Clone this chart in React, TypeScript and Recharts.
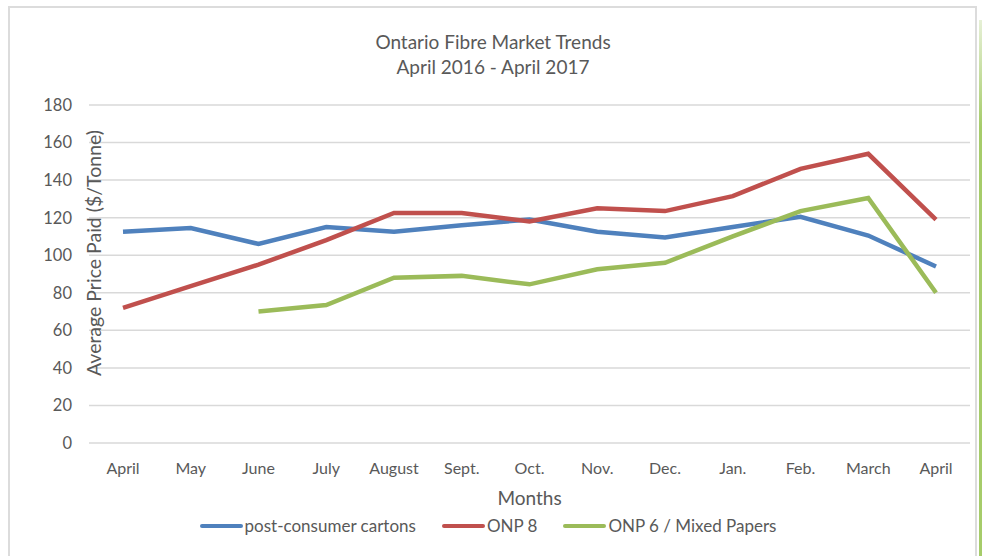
import { LineChart, Line, XAxis, YAxis, CartesianGrid, Legend } from "recharts";

const months = ["April", "May", "June", "July", "August", "Sept.", "Oct.", "Nov.", "Dec.", "Jan.", "Feb.", "March", "April"];
const cartons = [112.5, 114.5, 106, 115, 112.5, 116, 119, 112.5, 109.5, 115, 120.5, 110.5, 94];
const onp8 = [72, 83.5, 95, 108, 122.5, 122.5, 118, 125, 123.5, 131.5, 146, 154, 119];
const onp6 = [null, null, 70, 73.5, 88, 89, 84.5, 92.5, 96, 110, 123.5, 130.5, 80];
const yTicks = [0, 20, 40, 60, 80, 100, 120, 140, 160, 180];

const series = [
  { key: "cartons", name: "post-consumer cartons", color: "#4F81BD" },
  { key: "onp8", name: "ONP 8", color: "#C0504D" },
  { key: "onp6", name: "ONP 6 / Mixed Papers", color: "#9BBB59" },
];

const data = months.map((m, i) => ({
  month: m,
  cartons: cartons[i],
  onp8: onp8[i],
  onp6: onp6[i],
}));

const FONT = "Lato, 'Open Sans', sans-serif";
const TEXT = "#595959";

function LegendRow() {
  return (
    <div style={{ display: "flex", justifyContent: "center", gap: 26, fontFamily: FONT, fontSize: 17, color: TEXT, paddingLeft: 6 }}>
      {series.map((s) => (
        <div key={s.key} style={{ display: "flex", alignItems: "center" }}>
          <span style={{ display: "inline-block", width: 43, height: 4, background: s.color, borderRadius: 2, marginRight: 2 }} />
          {s.name}
        </div>
      ))}
    </div>
  );
}

export default function App() {
  return (
    <div style={{ position: "relative", width: 982, height: 556, background: "#fff", overflow: "hidden" }}>
      <style>{`body{margin:0}`}</style>
      <div style={{ position: "absolute", left: 8, top: 6, width: 969, height: 570, border: "2px solid #dcdcdc", boxSizing: "border-box" }} />
      <div style={{ position: "absolute", left: 979, top: 20, width: 3, height: 536, background: "linear-gradient(#e6f0d6, #a6cc6a 20%)" }} />
      <div style={{ position: "absolute", left: 0, width: 986, top: 29, textAlign: "center", fontFamily: FONT, fontSize: 19, lineHeight: "25px", color: TEXT }}>
        Ontario Fibre Market Trends
        <br />
        April 2016 - April 2017
      </div>
      <div style={{ position: "absolute", left: 0, top: 0 }}>
        <LineChart width={982} height={556} data={data} margin={{ top: 105, right: 12, bottom: 11, left: 0 }}>
          <CartesianGrid vertical={false} stroke="#d9d9d9" strokeWidth={1.5} />
          <XAxis
            dataKey="month"
            interval={0}
            axisLine={false}
            tickLine={false}
            tickSize={0}
            tickMargin={20}
            height={72}
            padding={{ left: 34, right: 34 }}
            tick={{ fill: TEXT, fontSize: 16, fontFamily: FONT }}
            label={{ value: "Months", position: "insideBottom", offset: 10, fill: TEXT, fontSize: 19, fontFamily: FONT }}
          />
          <YAxis
            domain={[0, 180]}
            ticks={yTicks}
            interval={0}
            width={89}
            axisLine={false}
            tickLine={false}
            tickSize={0}
            tickMargin={17}
            tick={{ fill: TEXT, fontSize: 16.5, fontFamily: FONT }}
            label={{
              content: ({ viewBox }: any) => {
                const cx = viewBox.x + viewBox.width + 4;
                const cy = viewBox.y + viewBox.height / 2 - 21;
                return (
                  <text x={cx} y={cy} transform={`rotate(-90, ${cx}, ${cy})`} textAnchor="middle" dominantBaseline="central" fill={TEXT} fontSize={19.5} fontFamily={FONT}>
                    Average Price Paid ($/Tonne)
                  </text>
                );
              },
            }}
          />
          <Legend verticalAlign="bottom" content={() => <LegendRow />} wrapperStyle={{ height: 30 }} />
          {series.map((s) => (
            <Line
              key={s.key}
              type="linear"
              dataKey={s.key}
              name={s.name}
              stroke={s.color}
              strokeWidth={4.5}
              dot={false}
              activeDot={false}
              isAnimationActive={false}
            />
          ))}
        </LineChart>
      </div>
    </div>
  );
}
